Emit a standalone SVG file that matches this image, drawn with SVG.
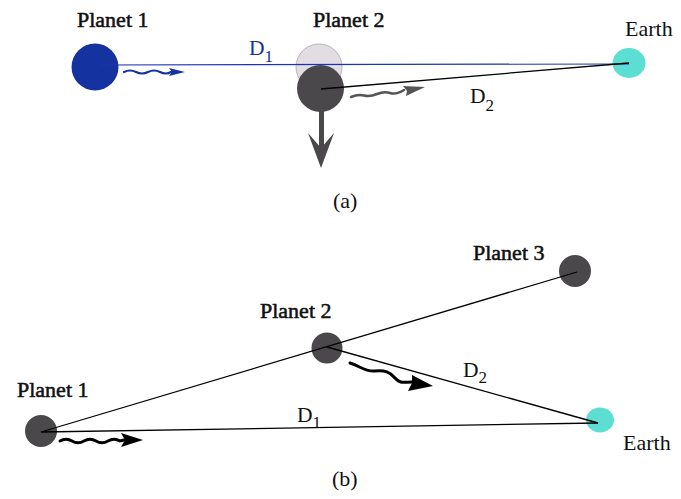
<svg xmlns="http://www.w3.org/2000/svg" width="681" height="499" viewBox="0 0 681 499">
<style>
text{font-family:"Liberation Serif","DejaVu Serif","Times New Roman",serif;fill:#111}
.lbl{font-size:22px;stroke:#111;stroke-width:0.55}
.reg{font-size:22px}
.d{font-size:21.5px}
.sub{font-size:17px}
.dark{fill:#4a484b}
.earth{fill:#5cdfd2}
.ln{stroke:#000;stroke-width:1.3;fill:none}
.wave{fill:none;stroke-linecap:round}
</style>
<rect width="681" height="499" fill="#fff"/>
<!-- Panel (a) -->
<g id="a-planet1"><circle cx="95" cy="67" r="23.5" fill="#1432a0"/><text class="lbl" x="77" y="27">Planet 1</text></g>
<g id="a-planet2-ghost"><circle cx="319" cy="67" r="23" fill="#e2dde2" stroke="#b8b4b8" stroke-width="1"/></g>
<g id="a-planet2"><circle cx="320.5" cy="88.5" r="23.5" class="dark"/><text class="lbl" x="313" y="27">Planet 2</text></g>
<g id="a-earth"><ellipse cx="629" cy="63" rx="16.5" ry="15" class="earth"/><text class="reg" x="625" y="36">Earth</text></g>
<g id="a-labels">
<text class="d" x="249" y="55" style="fill:#1432a0">D<tspan class="sub" dy="7">1</tspan></text>
<text class="d" x="470" y="103">D<tspan class="sub" dy="8">2</tspan></text>
<text class="reg" x="333" y="208">(a)</text>
</g>
<!-- Panel (b) -->
<g id="b-planet1"><circle cx="41" cy="431" r="16" class="dark"/><text class="lbl" x="17" y="397">Planet 1</text></g>
<g id="b-planet2"><circle cx="327" cy="348" r="15.5" class="dark"/><text class="lbl" x="260" y="318">Planet 2</text></g>
<g id="b-planet3"><circle cx="575" cy="271" r="16" class="dark"/><text class="lbl" x="473" y="260">Planet 3</text></g>
<g id="b-earth"><ellipse cx="600" cy="420" rx="14" ry="12.5" class="earth"/><text class="reg" x="623" y="450">Earth</text></g>
<g id="b-labels">
<text class="d" x="297" y="422">D<tspan class="sub" dy="6">1</tspan></text>
<text class="d" x="463" y="377">D<tspan class="sub" dy="6">2</tspan></text>
<text class="reg" x="332" y="486">(b)</text>
</g>
<g id="connectors">
<line x1="100" y1="65" x2="629" y2="64" stroke="#1a35b0" stroke-width="1.2"/>
<line x1="321" y1="89" x2="629" y2="63" class="ln"/>
<line x1="41" y1="432" x2="577" y2="272" class="ln"/>
<line x1="327" y1="347" x2="598" y2="423" class="ln"/>
<line x1="41" y1="432" x2="598" y2="423" class="ln"/>
<!-- motion arrow -->
<line x1="321.5" y1="110" x2="321.5" y2="152" stroke="#4a484b" stroke-width="5"/>
<path d="M321,168 L308,133 L321,148 L334,133 Z" fill="#4a484b"/>
<!-- waves -->
<path class="wave" d="M124,72 q6,-3 12,0 t12,0 t12,0 t11,0 L172,72" stroke="#1432a0" stroke-width="2.2"/>
<path d="M169,68 L185,72 L169,76 L172,72 Z" fill="#1432a0"/>
<path class="wave" d="M351,97 q7,-3 13,-1.5 t13,-1.5 t13,-1 t14,-3" stroke="#555" stroke-width="2.5"/>
<path d="M403,86 L425,87 L406,96 L407,91 Z" fill="#555"/>
<path class="wave" d="M60,441 q6,-3.5 12,0 t12,0 t12,0 t12,0 t12,0 L124,440" stroke="#000" stroke-width="3"/>
<path d="M121,433 L143,440 L121,447 L125,440 Z" fill="#000"/>
<path class="wave" d="M350,363 C360,366 365,372 375,371 S390,372 395,378 S404,382 412,382" stroke="#000" stroke-width="3"/>
<path d="M412,375 L433,386 L408,391 L412,383 Z" fill="#000"/>
</g>
</svg>
